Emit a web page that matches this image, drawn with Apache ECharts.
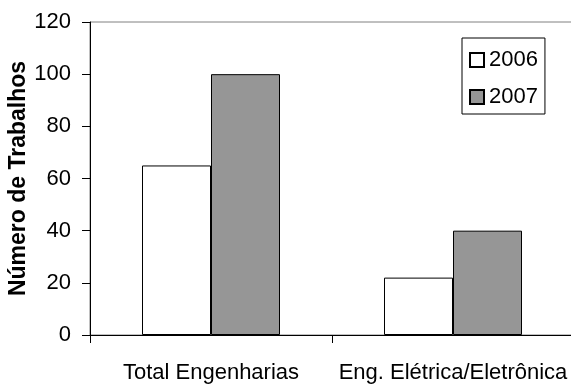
<!DOCTYPE html>
<html>
<head>
<meta charset="utf-8">
<script src="https://cdn.jsdelivr.net/npm/echarts@6/dist/echarts.min.js"></script>
<style>
  html, body { margin: 0; padding: 0; background: #ffffff; }
  #chart { width: 571px; height: 385px; }
</style>
</head>
<body>
<div id="chart"></div>
<script>
// Trabalhos por área, 2006 x 2007
const categories = ['Total Engenharias', 'Eng. Elétrica/Eletrônica'];
const years = ['2006', '2007'];
const values2006 = [65, 22];
const values2007 = [100, 40];
const yTicks = { min: 0, max: 120, interval: 20 };

const FONT = 'Liberation Sans';
const chart = echarts.init(document.getElementById('chart'), null, { renderer: 'canvas' });

const barStyle = (fill) => ({ color: fill, borderColor: '#000000', borderWidth: 1 });

chart.setOption({
  animation: false,
  backgroundColor: '#ffffff',
  grid: {
    left: 90, top: 22, width: 484, height: 313,
    containLabel: false,
    outerBoundsMode: 'none',
    show: true, borderColor: '#808080', borderWidth: 1, backgroundColor: 'transparent'
  },
  legend: {
    orient: 'vertical',
    left: 462, top: 38,
    padding: [11, 7, 6, 7],
    itemGap: 15,
    itemWidth: 14, itemHeight: 14,
    borderColor: '#000000', borderWidth: 1,
    textStyle: { fontFamily: FONT, fontSize: 22, color: '#000000' },
    data: years.map((y) => ({ name: y, icon: 'rect' }))
  },
  xAxis: {
    type: 'category',
    data: categories,
    axisLine: { lineStyle: { color: '#000000', width: 1 } },
    axisTick: { show: true, length: 8, lineStyle: { color: '#000000' } },
    axisLabel: {
      fontFamily: FONT, fontSize: 22, color: '#000000', margin: 27,
      interval: 0, hideOverlap: false, overflow: 'none'
    },
    splitLine: { show: false }
  },
  yAxis: {
    type: 'value',
    min: yTicks.min, max: yTicks.max, interval: yTicks.interval,
    name: 'Número de Trabalhos',
    nameLocation: 'middle',
    nameGap: 60,
    nameMoveOverlap: false,
    nameRotate: 90,
    nameTextStyle: { fontFamily: FONT, fontSize: 23, fontWeight: 'bold', color: '#000000' },
    axisLine: { show: true, lineStyle: { color: '#000000', width: 1 } },
    axisTick: { show: true, length: 8, lineStyle: { color: '#000000' } },
    axisLabel: { fontFamily: FONT, fontSize: 22, color: '#000000', margin: 19 },
    splitLine: { show: false }
  },
  series: [
    {
      name: years[0], type: 'bar', data: values2006,
      barWidth: 69, barGap: '0%',
      itemStyle: barStyle('#ffffff')
    },
    {
      name: years[1], type: 'bar', data: values2007,
      barWidth: 69, barGap: '0%',
      itemStyle: barStyle('#969696')
    }
  ]
});
</script>
</body>
</html>
